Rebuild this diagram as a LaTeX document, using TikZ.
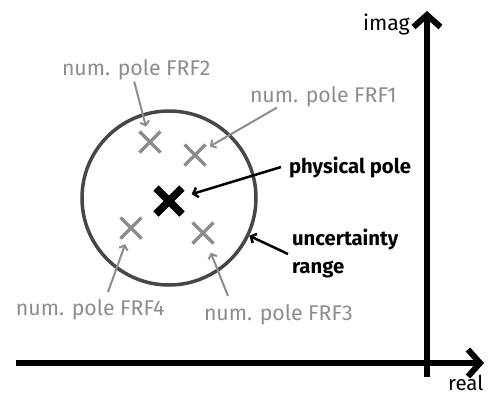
\documentclass[tikz,border=0pt]{standalone}
\usepackage{fontspec}
\setmainfont{Fira Sans}
\usepackage{xcolor}
\usetikzlibrary{arrows.meta,positioning,shapes.misc}

\definecolor{polegray}{HTML}{8C8C8C}
\definecolor{rangegray}{HTML}{474747}

\begin{document}
\begin{tikzpicture}[
  x=1pt, y=-1pt,
  numpole/.style={cross out, draw=polegray, line width=3.2pt,
    minimum size=21pt, inner sep=0pt, outer sep=0pt},
  physpole/.style={cross out, draw=black, line width=7.5pt,
    minimum size=26pt, inner sep=0pt, outer sep=0pt},
  numlbl/.style={font=\fontsize{21.3}{24}\selectfont, text=polegray,
    anchor=base west, inner sep=0pt, outer sep=0pt},
  physlbl/.style={font=\fontsize{20.3}{28}\selectfont\bfseries,
    inner sep=0pt, outer sep=0pt, align=left},
  axis/.style={line width=6pt, -{Straight Barb[length=12pt, width=27pt]}},
  grayarrow/.style={draw=polegray, line width=2pt,
    -{Straight Barb[length=4pt, width=9pt]}},
  blackarrow/.style={line width=2.5pt, -{Straight Barb[length=4.5pt, width=10pt]}}
]
\useasboundingbox (0,0) rectangle (491,397);

% Axes
\coordinate (xstart) at (16,363);
\coordinate (xend) at (484,363);
\coordinate (ystart) at (427,377);
\coordinate (yend) at (427,11);
\draw[axis] (xstart) -- (xend);
\draw[axis] (ystart) -- (yend);
\node[font=\fontsize{21.3}{24}\selectfont, anchor=base east, inner sep=0pt] (imag)
  at (410,30) {imag};
\node[font=\fontsize{20.5}{24}\selectfont, anchor=base west, inner sep=0pt] (real)
  at (448,390) {real};

% Uncertainty range and poles
\node[circle, draw=rangegray, line width=3.5pt, minimum size=174pt,
  inner sep=0pt] (range) at (169,198) {};
\node[physpole] (pp) at (169,201) {};
\node[numpole] (p1) at (195,155) {};
\node[numpole] (p2) at (150,142) {};
\node[numpole] (p3) at (203,233) {};
\node[numpole] (p4) at (131,228) {};

% Labels
\node[numlbl] (lbl1) at (250,102) {num. pole FRF1};
\node[numlbl] (lbl2) at (62,75) {num. pole FRF2};
\node[numlbl] (lbl3) at (204,320) {num. pole FRF3};
\node[numlbl] (lbl4) at (16,315) {num. pole FRF4};
\node[physlbl, anchor=base west] (phys) at (289,173) {physical pole};
\node[physlbl, anchor=west] (unc) at (292,254) {uncertainty\\range};

% Pointers
\draw[grayarrow, shorten >=5pt] ([xshift=27pt, yshift=-1pt]lbl1.south west) -- (p1);
\draw[grayarrow, shorten >=5pt] ([xshift=-2pt, yshift=-2pt]lbl2.south) -- (p2);
\draw[grayarrow, shorten >=10pt] ([xshift=24pt, yshift=8pt]lbl3.north west) -- (p3);
\draw[grayarrow, shorten >=6pt] ([xshift=92pt, yshift=7pt]lbl4.north west) -- (p4);
\draw[blackarrow, shorten >=10pt] ([xshift=-8pt]phys.west) -- (pp);
\draw[blackarrow] ([xshift=-4pt]unc.west) -- (range);

\end{tikzpicture}
\end{document}
